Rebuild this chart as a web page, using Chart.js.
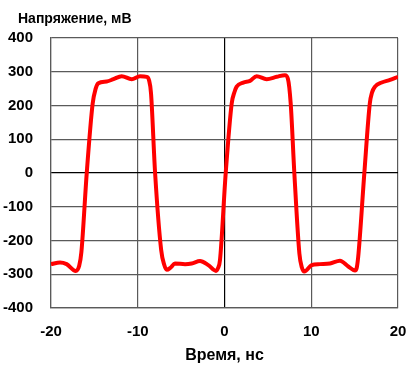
<!DOCTYPE html>
<html>
<head>
<meta charset="utf-8">
<script src="https://cdn.jsdelivr.net/npm/chart.js@4"></script>
<style>
  html, body { margin: 0; padding: 0; background: #fff; }
  #wrap { width: 415px; height: 369px; }
</style>
</head>
<body>
<div id="wrap"><canvas id="pulseChart"></canvas></div>
<script>
// Time points (ns) and voltage (mV)
const timeNs = [-20, -18.96, -18.2, -17.15, -16.75, -16.5, -15.88, -15.2, -14.85, -14.54,
  -13.58, -12.8, -11.85, -10.7, -9.74, -8.97, -8.7, -8.47, -8.0, -7.3, -6.95, -6.66,
  -6.2, -5.71, -4.55, -3.78, -2.82, -1.87, -0.98, -0.75, -0.52, 0.14, 0.83, 1.15, 1.4,
  2.17, 2.94, 3.71, 4.86, 6.02, 6.97, 7.3, 7.63, 8.05, 8.63, 8.92, 9.2, 10.05,
  11.0, 12.16, 13.31, 14.27, 15.04, 15.25, 15.45, 16.12, 16.75, 17.0, 17.35, 18.12, 19.08, 20];
const voltageMv = [-270, -265, -270, -290, -275, -235, 0, 205, 250, 266,
  271, 278, 287, 278, 287, 285, 275, 236, 0, -228, -272, -287,
  -280, -268, -270, -268, -261, -273, -290, -282, -258, 0, 206, 240, 256,
  268, 273, 287, 278, 285, 290, 280, 206, 0, -238, -280, -292, -273,
  -270, -268, -260, -277, -289, -280, -238, 0, 206, 238, 256, 268, 276, 285];

const xTicks = [-20, -10, 0, 10, 20];
const yTicks = [400, 300, 200, 100, 0, -100, -200, -300, -400];

const yTitle = 'Напряжение, мВ';
const xTitle = 'Время, нс';

const fontFamily = '"Liberation Sans", Arial, sans-serif';
const gridColor = ctx => ctx.tick && ctx.tick.value === 0 ? '#000000' : '#5a5a5a';

// draws the y axis caption above the plot, left aligned
const topCaption = {
    id: 'topCaption',
    afterDraw(chart) {
        const c = chart.ctx;
        c.save();
        c.font = 'bold 14px ' + fontFamily;
        c.fillStyle = '#000';
        c.textAlign = 'left';
        c.textBaseline = 'alphabetic';
        c.fillText(yTitle, 18, 23);
        c.restore();
    }
};

const ctx = document.getElementById('pulseChart').getContext('2d');
const pulseChart = new Chart(ctx, {
    type: 'line',
    data: {
        datasets: [{
            data: timeNs.map((t, i) => ({x: t, y: voltageMv[i]})),
            borderColor: '#ff0000',
            borderWidth: 4,
            pointRadius: 0,
            cubicInterpolationMode: 'monotone',
            fill: false,
        }]
    },
    options: {
        responsive: true,
        maintainAspectRatio: false,
        animation: false,
        layout: {
            padding: {left: 0, right: 17, top: 38, bottom: 0}
        },
        scales: {
            x: {
                type: 'linear',
                min: -20,
                max: 20,
                afterBuildTicks: scale => { scale.ticks = xTicks.map(v => ({value: v})); },
                afterFit: scale => {
                    scale.height = 61;
                    scale.paddingLeft = 0;
                    scale.paddingRight = 0;
                },
                grid: {
                    color: gridColor,
                    lineWidth: 1.2,
                    drawTicks: false,
                },
                border: {color: '#5a5a5a', width: 1.2},
                ticks: {
                    padding: 15,
                    color: '#000',
                    font: {family: fontFamily, size: 15, weight: 'bold'},
                    maxRotation: 0,
                },
                title: {
                    display: true,
                    text: xTitle,
                    color: '#000',
                    font: {family: fontFamily, size: 16, weight: 'bold'},
                    padding: {top: 0, bottom: 4},
                }
            },
            y: {
                type: 'linear',
                min: -400,
                max: 400,
                afterBuildTicks: scale => { scale.ticks = yTicks.map(v => ({value: v})); },
                afterFit: scale => {
                    scale.width = 51;
                    scale.paddingTop = 0;
                    scale.paddingBottom = 0;
                },
                grid: {
                    color: gridColor,
                    lineWidth: 1.2,
                    drawTicks: false,
                },
                border: {color: '#5a5a5a', width: 1.2},
                ticks: {
                    padding: 18,
                    color: '#000',
                    font: {family: fontFamily, size: 15, weight: 'bold'},
                }
            }
        },
        plugins: {
            legend: {display: false},
            tooltip: {enabled: false}
        }
    },
    plugins: [topCaption]
});
</script>
</body>
</html>
